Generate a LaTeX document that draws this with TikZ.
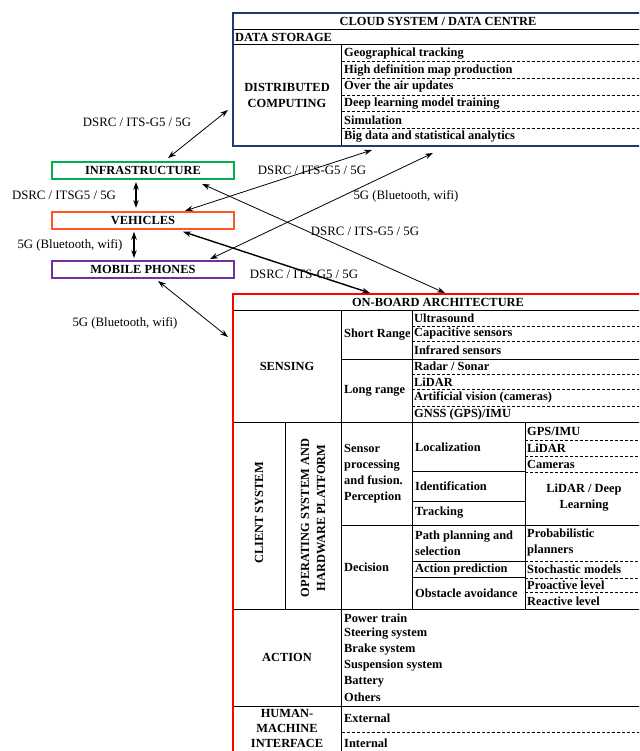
\documentclass[tikz,border=0pt]{standalone}
\usepackage{fontspec}
\setmainfont{Liberation Serif}
\usetikzlibrary{arrows.meta}

\definecolor{cloudblue}{HTML}{1F3A70}
\definecolor{infragreen}{HTML}{00B050}
\definecolor{vehorange}{HTML}{FF5722}
\definecolor{mobpurple}{HTML}{7030A0}

\tikzset{
    txt/.style={font=\bfseries\fontsize{12.4}{16}\selectfont, inner sep=0pt},
    item/.style={txt, anchor=west},
    lbl/.style={font=\fontsize{12.8}{15}\selectfont, inner sep=0pt},
    dev/.style={draw=#1, line width=1.8pt, minimum width=182pt, minimum height=17pt, inner sep=0pt, txt},
    link/.style={<->, >={Stealth[length=8pt,width=5.5pt]}, line width=0.8pt},
    rule/.style={line width=1pt},
    dotrule/.style={line width=0.8pt, dash pattern=on 3pt off 2pt}
}

\begin{document}
\begin{tikzpicture}[x=1pt,y=-1pt]
            % Picture frame (pixel grid, y downwards)
            \useasboundingbox (0,0) rectangle (639,751);
            \clip (0,0) rectangle (639,751);

            \def\xl{233}   % left edge of both tables
            \def\xr{643}   % right edge of both tables
            \def\xa{341.7} % first column divider
            \def\xb{412}   % second column divider
            \def\xc{525}   % third column divider

            % Devices
            \node[dev=infragreen] (infra) at (143,170.5) {INFRASTRUCTURE};
            \node[dev=vehorange]  (veh)   at (143,220.3) {VEHICLES};
            \node[dev=mobpurple]  (mob)   at (143,269.5) {MOBILE PHONES};

            % Cloud system table
            \draw[rule] (\xl,29.5) -- (\xr,29.5);
            \draw[rule] (\xl,45) -- (\xr,45);
            \draw[rule] (\xa,45) -- (\xa,145.7);
            \foreach \y in {61.7,78.3,95,111.7,128.3}
                \draw[dotrule] (\xa,\y) -- (\xr,\y);
            \draw[cloudblue, line width=1.8pt] (\xl,13) rectangle (\xr,145.7);

            \node[txt] (cloudtitle) at (438,21.3) {CLOUD SYSTEM / DATA CENTRE};
            \node[item] (storage) at (235,37.3) {DATA STORAGE};
            \node[txt, align=center] (distrib) at (287,95.4) {DISTRIBUTED\\COMPUTING};
            \foreach \t [count=\i] in {Geographical tracking, High definition map production,
                Over the air updates, Deep learning model training, Simulation,
                Big data and statistical analytics}
                \node[item] at (344,{45+16.7*(\i-0.5)}) {\t};

            % On-board architecture table
            \draw[rule] (\xl,310.7) -- (\xr,310.7);
            \draw[rule] (\xl,422.7) -- (\xr,422.7);
            \draw[rule] (\xl,609) -- (\xr,609);
            \draw[rule] (\xl,706) -- (\xr,706);
            \draw[rule] (\xa,310.7) -- (\xa,760);
            \draw[rule] (\xb,310.7) -- (\xb,609);
            \draw[rule] (\xc,422.7) -- (\xc,609);
            \draw[rule] (285.7,422.7) -- (285.7,609);
            \draw[rule] (\xa,359) -- (\xr,359);
            \draw[rule] (\xa,525) -- (\xr,525);
            \foreach \y in {471,501,561.7,577}
                \draw[rule] (\xb,\y) -- (\xc,\y);
            \foreach \y in {326,341.7,374.3,389.3,406}
                \draw[dotrule] (\xb,\y) -- (\xr,\y);
            \foreach \y in {440,456.5,472,561.7,578,592}
                \draw[dotrule] (\xc,\y) -- (\xr,\y);
            \draw[dotrule] (\xa,732.7) -- (\xr,732.7);
            \draw[red, line width=1.8pt] (\xl,294) rectangle (\xr,760);

            \node[txt] (onboard) at (438,302.5) {ON-BOARD ARCHITECTURE};

            % Sensing
            \node[txt] (sensing) at (287,366.7) {SENSING};
            \node[item] (short) at (344,335) {Short Range};
            \node[item] (long) at (344,391) {Long range};
            \node[item] at (\xb+2,318.4) {Ultrasound};
            \node[item] at (\xb+2,333.9) {Capacitive sensors};
            \node[item] at (\xb+2,350.4) {Infrared sensors};
            \node[item] at (\xb+2,366.7) {Radar / Sonar};
            \node[item] at (\xb+2,381.8) {LiDAR};
            \node[item] at (\xb+2,397.7) {Artificial vision (cameras)};
            \node[item] at (\xb+2,414.4) {GNSS (GPS)/IMU};

            % Client system
            \node[txt, rotate=90] (client) at (259,513) {CLIENT SYSTEM};
            \node[txt, rotate=90, align=center] (osys) at (313,518) {OPERATING SYSTEM AND\\HARDWARE PLATFORM};
            \node[item, align=left] (percep) at (344,474) {Sensor\\processing\\and fusion.\\Perception};
            \node[item] (decision) at (344,567) {Decision};
            \node[item] at (\xb+3,447) {Localization};
            \node[item] at (\xb+3,486) {Identification};
            \node[item] at (\xb+3,513) {Tracking};
            \node[item, align=left] at (\xb+3,543) {Path planning and\\selection};
            \node[item] at (\xb+3,569.5) {Action prediction};
            \node[item] at (\xb+3,593) {Obstacle avoidance};
            \node[item] at (\xc+2,431.3) {GPS/IMU};
            \node[item] at (\xc+2,448) {LiDAR};
            \node[item] at (\xc+2,464) {Cameras};
            \node[txt, align=center] (deep) at (584,498) {LiDAR / Deep\\Learning};
            \node[item, align=left] at (\xc+2,543) {Probabilistic\\planners};
            \node[item] at (\xc+2,569.5) {Stochastic models};
            \node[item] at (\xc+2,585) {Proactive level};
            \node[item] at (\xc+2,601) {Reactive level};

            % Action and HMI
            \node[txt] (action) at (287,657.5) {ACTION};
            \foreach \t [count=\i] in {Power train, Steering system, Brake system,
                Suspension system, Battery, Others}
                \node[item] at (344,{602.3+15.8*\i}) {\t};
            \node[txt, align=center, font=\bfseries\fontsize{12.4}{15}\selectfont] (hmi) at (287,728) {HUMAN-\\MACHINE\\INTERFACE};
            \node[item] at (344,718) {External};
            \node[item] at (344,743) {Internal};

            % Link end points on the tables
            \coordinate (cloudL)  at (228,110);
            \coordinate (cloudB1) at (372,150);
            \coordinate (cloudB2) at (433,153);
            \coordinate (boardT1) at (445,293);
            \coordinate (boardT2) at (370,293);
            \coordinate (boardL)  at (228,337);

            % Draw links
            \draw[link] ([xshift=25pt, yshift=3pt]infra.north) -- (cloudL);
            \draw[link, line width=1.2pt] ([xshift=-7pt, yshift=-2pt]infra.south) -- ([xshift=-7pt, yshift=3pt]veh.north);
            \draw[link, line width=1.2pt] ([xshift=-9pt, yshift=-2pt]veh.south) -- ([xshift=-9pt, yshift=2pt]mob.north);
            \draw[link] ([xshift=42pt]veh.north) -- (cloudB1);
            \draw[link] ([xshift=67pt, yshift=1pt]mob.north) -- (cloudB2);
            \draw[link] ([xshift=59pt, yshift=-4pt]infra.south) -- (boardT1);
            \draw[link, line width=1.4pt] ([xshift=40pt, yshift=-2pt]veh.south) -- (boardT2);
            \draw[link] ([xshift=15pt, yshift=-2pt]mob.south) -- (boardL);

            % Link labels
            \node[lbl] at (137,122) {DSRC / ITS-G5 / 5G};
            \node[lbl] at (64,195) {DSRC / ITSG5 / 5G};
            \node[lbl] at (70,245) {5G (Bluetooth, wifi)};
            \node[lbl] at (312,170) {DSRC / ITS-G5 / 5G};
            \node[lbl] at (406,196) {5G (Bluetooth, wifi)};
            \node[lbl] at (365,231) {DSRC / ITS-G5 / 5G};
            \node[lbl] at (304,274) {DSRC / ITS-G5 / 5G};
            \node[lbl] at (125,323) {5G (Bluetooth, wifi)};

\end{tikzpicture}
\end{document}
